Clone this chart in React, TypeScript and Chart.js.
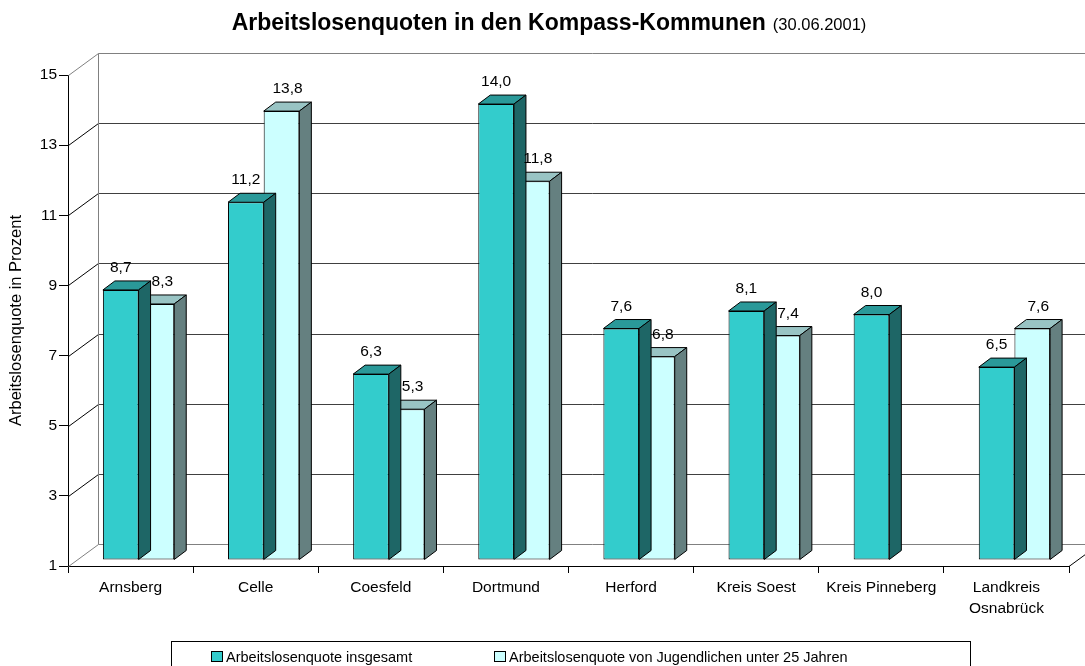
import React, { useEffect, useRef } from 'react';
import { Chart, registerables } from 'chart.js';

Chart.register(...registerables);

const categories: (string | string[])[] = [
  'Arnsberg',
  'Celle',
  'Coesfeld',
  'Dortmund',
  'Herford',
  'Kreis Soest',
  'Kreis Pinneberg',
  ['Landkreis', 'Osnabrück'],
];
const totalRate: (number | null)[] = [8.7, 11.2, 6.3, 14.0, 7.6, 8.1, 8.0, 6.5];
const youthRate: (number | null)[] = [8.3, 13.8, 5.3, 11.8, 6.8, 7.4, null, 7.6];
const yTicks = [1, 3, 5, 7, 9, 11, 13, 15];
const seriesNames = [
  'Arbeitslosenquote insgesamt',
  'Arbeitslosenquote von Jugendlichen unter 25 Jahren',
];
const titleMain = 'Arbeitslosenquoten in den Kompass-Kommunen';
const titleDate = '(30.06.2001)';
const yTitle = 'Arbeitslosenquote in Prozent';

const FONT = "Arial, 'Liberation Sans', sans-serif";
const WALL = { dx: 30, dy: -22 };
const SHIFT = { dx: 8, dy: -6 };
const DEPTH = { dx: 12, dy: -9 };
const FACES = [
  { front: '#33CCCC', top: '#2A9999', side: '#1E6666', labelDx: 0 },
  { front: '#CCFFFF', top: '#99C4C4', side: '#658080', labelDx: 6 },
];

function line(ctx: CanvasRenderingContext2D, x1: number, y1: number, x2: number, y2: number) {
  ctx.beginPath();
  ctx.moveTo(x1, y1);
  ctx.lineTo(x2, y2);
  ctx.stroke();
}

const excel3d = {
  id: 'excel3d',
  beforeDatasetsDraw(chart: any) {
    const { ctx, chartArea: a, scales } = chart;
    const y = scales.y;
    ctx.save();
    ctx.lineWidth = 1;
    const left = a.left + 0.5;
    yTicks.forEach((v, i) => {
      const py = Math.round(y.getPixelForValue(v)) + 0.5;
      const edge = i === 0 || i === yTicks.length - 1;
      ctx.strokeStyle = edge ? '#808080' : '#000000';
      line(ctx, left, py, left + WALL.dx, py + WALL.dy);
      ctx.strokeStyle = edge ? '#808080' : '#404040';
      line(ctx, left + WALL.dx, py + WALL.dy, a.right + WALL.dx + 20, py + WALL.dy);
    });
    ctx.strokeStyle = '#808080';
    const top = Math.round(y.getPixelForValue(yTicks[yTicks.length - 1])) + 0.5 + WALL.dy;
    const bot = Math.round(y.getPixelForValue(yTicks[0])) + 0.5 + WALL.dy;
    line(ctx, left + WALL.dx, top, left + WALL.dx, bot);
    ctx.strokeStyle = '#000000';
    const ab = Math.round(a.bottom) + 0.5;
    line(ctx, a.right, ab, a.right + WALL.dx, ab + WALL.dy);
    ctx.restore();
  },
  beforeDatasetDraw(chart: any) {
    chart.ctx.save();
    chart.ctx.translate(SHIFT.dx, SHIFT.dy);
  },
  afterDatasetDraw(chart: any, args: any) {
    const ctx = chart.ctx;
    const f = FACES[args.index];
    ctx.lineWidth = 1;
    ctx.strokeStyle = '#000000';
    args.meta.data.forEach((el: any, i: number) => {
      const v = chart.data.datasets[args.index].data[i];
      if (v === null || v === undefined) return;
      const l = el.x - el.width / 2;
      const r = el.x + el.width / 2;
      const t = el.y;
      const b = el.base;
      ctx.beginPath();
      ctx.moveTo(l, t);
      ctx.lineTo(l + DEPTH.dx, t + DEPTH.dy);
      ctx.lineTo(r + DEPTH.dx, t + DEPTH.dy);
      ctx.lineTo(r, t);
      ctx.closePath();
      ctx.fillStyle = f.top;
      ctx.fill();
      ctx.stroke();
      ctx.beginPath();
      ctx.moveTo(r, t);
      ctx.lineTo(r + DEPTH.dx, t + DEPTH.dy);
      ctx.lineTo(r + DEPTH.dx, b + DEPTH.dy);
      ctx.lineTo(r, b);
      ctx.closePath();
      ctx.fillStyle = f.side;
      ctx.fill();
      ctx.stroke();
    });
    ctx.restore();
  },
  afterDatasetsDraw(chart: any) {
    const ctx = chart.ctx;
    ctx.save();
    ctx.fillStyle = '#000000';
    ctx.font = `15.5px ${FONT}`;
    ctx.textAlign = 'center';
    ctx.textBaseline = 'alphabetic';
    chart.data.datasets.forEach((ds: any, di: number) => {
      const meta = chart.getDatasetMeta(di);
      meta.data.forEach((el: any, i: number) => {
        const v = ds.data[i];
        if (v === null || v === undefined) return;
        const txt = v.toFixed(1).replace('.', ',');
        ctx.fillText(txt, el.x + SHIFT.dx + FACES[di].labelDx, el.y + SHIFT.dy + DEPTH.dy - 9);
      });
    });
    ctx.restore();
  },
  afterDraw(chart: any) {
    const ctx = chart.ctx;
    ctx.save();
    ctx.fillStyle = '#000000';
    ctx.textBaseline = 'alphabetic';
    ctx.textAlign = 'left';
    ctx.font = `bold 23px ${FONT}`;
    const w1 = ctx.measureText(titleMain).width;
    ctx.font = `16.5px ${FONT}`;
    const w2 = ctx.measureText(titleDate).width;
    const gap = 7;
    const x0 = 549 - (w1 + gap + w2) / 2;
    ctx.font = `bold 23px ${FONT}`;
    ctx.fillText(titleMain, x0, 30);
    ctx.font = `16.5px ${FONT}`;
    ctx.fillText(titleDate, x0 + w1 + gap, 30);
    ctx.lineWidth = 1;
    ctx.strokeStyle = '#000000';
    ctx.strokeRect(171.5, 641.5, 799, 40);
    ctx.font = `14.5px ${FONT}`;
    const items = [
      { sx: 211, tx: 226 },
      { sx: 494, tx: 509 },
    ];
    items.forEach((it, i) => {
      ctx.fillStyle = FACES[i].front;
      ctx.fillRect(it.sx + 0.5, 651.5, 11, 10);
      ctx.strokeRect(it.sx + 0.5, 651.5, 11, 10);
      ctx.fillStyle = '#000000';
      ctx.fillText(seriesNames[i], it.tx, 662);
    });
    ctx.restore();
  },
};

export default function App() {
  const ref = useRef<HTMLCanvasElement>(null);
  useEffect(() => {
    document.body.style.margin = '0';
    const canvas = ref.current;
    if (!canvas) return;
    const chart = new Chart(canvas, {
      type: 'bar',
      data: {
        labels: categories as any,
        datasets: [
          {
            label: seriesNames[0],
            data: totalRate,
            base: 1,
            backgroundColor: FACES[0].front,
            borderColor: '#000000',
            borderWidth: 1,
            borderSkipped: false,
            clip: false as any,
          } as any,
          {
            label: seriesNames[1],
            data: youthRate,
            base: 1,
            backgroundColor: FACES[1].front,
            borderColor: '#000000',
            borderWidth: 1,
            borderSkipped: false,
            clip: false as any,
          } as any,
        ],
      },
      options: {
        responsive: false,
        animation: false,
        events: [],
        layout: { padding: { top: 75, right: 16, left: 0, bottom: 0 } },
        datasets: { bar: { barPercentage: 1, categoryPercentage: 0.57 } },
        plugins: {
          legend: { display: false },
          title: { display: false },
          tooltip: { enabled: false },
        },
        scales: {
          x: {
            offset: true,
            grid: {
              display: true,
              offset: true,
              drawOnChartArea: false,
              drawTicks: true,
              tickLength: 7,
              color: '#000000',
            },
            border: { display: true, color: '#000000', width: 1 },
            ticks: {
              color: '#000000',
              font: { family: FONT, size: 15.5, lineHeight: 1.3 },
              padding: 5,
              maxRotation: 0,
              autoSkip: false,
            },
            afterFit: (s: any) => {
              s.height = 100;
            },
          },
          y: {
            min: 1,
            max: 15,
            afterBuildTicks: (s: any) => {
              s.ticks = yTicks.map((v) => ({ value: v }));
            },
            grid: {
              display: true,
              drawOnChartArea: false,
              drawTicks: true,
              tickLength: 9,
              color: '#000000',
            },
            border: { display: true, color: '#000000', width: 1 },
            ticks: {
              color: '#000000',
              font: { family: FONT, size: 15.5 },
              padding: 2,
            },
            title: {
              display: true,
              text: yTitle,
              color: '#000000',
              font: { family: FONT, size: 16.5 },
              padding: { top: 7, bottom: 0 },
            },
            afterFit: (s: any) => {
              s.width = 68;
            },
          },
        },
      },
      plugins: [excel3d],
    });
    return () => chart.destroy();
  }, []);
  return (
    <div style={{ width: 1085, height: 666, background: '#ffffff' }}>
      <canvas ref={ref} width={1085} height={666} style={{ display: 'block', width: 1085, height: 666 }} />
    </div>
  );
}
